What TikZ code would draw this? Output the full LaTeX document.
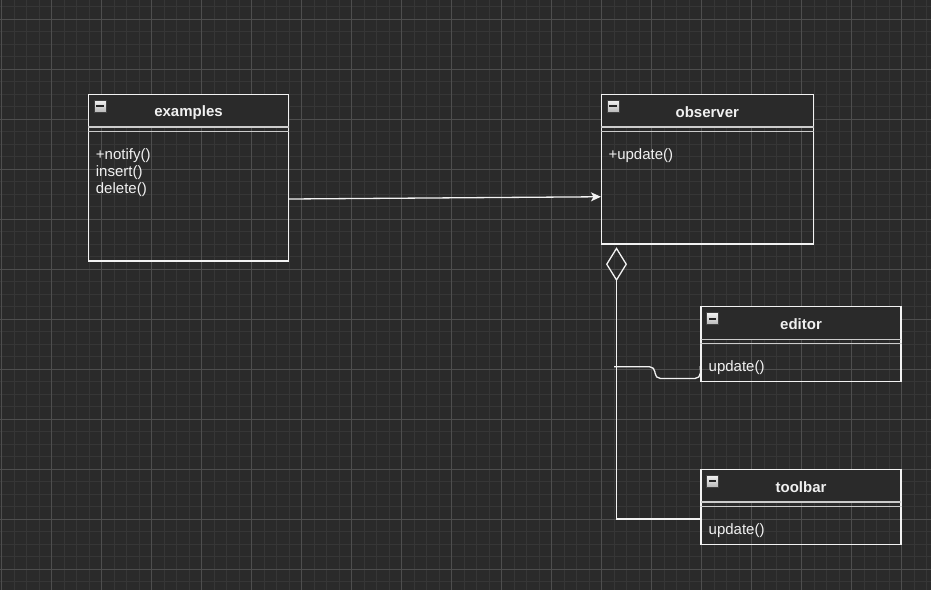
\documentclass[tikz,border=0pt]{standalone}
\usepackage{fontspec}
\setmainfont{Liberation Sans}
\usetikzlibrary{arrows.meta,shapes.geometric}
\definecolor{bgc}{HTML}{2A2A2A}
\definecolor{minorc}{HTML}{363636}
\definecolor{majorc}{HTML}{4E4E4E}
\definecolor{linec}{HTML}{F2F2F2}
\definecolor{sepc}{HTML}{CCCCCC}
\definecolor{txtc}{HTML}{F0F0F0}
\begin{document}
\begin{tikzpicture}[x=1pt,y=-1pt,
  minorgrid/.style={draw=minorc,line width=1pt},
  majorgrid/.style={draw=majorc,line width=1pt},
  hdr/.style={fill=bgc,draw=none,inner sep=0pt},
  hdrtext/.style={inner sep=0pt,text=txtc,font=\fontsize{15}{17}\selectfont\bfseries},
  classbox/.style={draw=linec,line width=1.3pt,fill=none,inner sep=0pt},
  sepline/.style={draw=sepc,line width=1.3pt},
  member/.style={text=txtc,font=\fontsize{15}{17}\selectfont,anchor=base west,inner sep=0pt},
  minusicon/.style={draw=gray!50!black,line width=0.6pt,top color=gray!10,bottom color=gray!55,
    minimum size=12pt,inner sep=0pt,
    path picture={\fill[black!85] ([xshift=2.3pt,yshift=-1pt]path picture bounding box.west)
      rectangle ([xshift=-2.3pt,yshift=1pt]path picture bounding box.east);}},
  conn/.style={draw=linec,line width=1.3pt},
  aggdiamond/.style={diamond,draw=linec,line width=1.3pt,fill=none,minimum width=20pt,minimum height=32pt,inner sep=0pt}
]
% background and grid
\fill[bgc] (0,0) rectangle (931,590);
\useasboundingbox (0,0) rectangle (931,590);
\foreach \i in {0,...,74} \draw[minorgrid] ({1.5+12.5*\i},0) -- ({1.5+12.5*\i},590);
\foreach \i in {0,...,47} \draw[minorgrid] (0,{6.8+12.5*\i}) -- (931,{6.8+12.5*\i});
\foreach \i in {0,...,18} \draw[majorgrid] ({1.5+50*\i},0) -- ({1.5+50*\i},590);
\foreach \i in {0,...,11} \draw[majorgrid] (0,{19.3+50*\i}) -- (931,{19.3+50*\i});

% examples
\node[hdr,minimum width=200pt,minimum height=32.4pt] (exh) at (188.5,110.7) {};
\node[hdrtext] (ext) at (188.5,112.2) {examples};
\node[classbox,minimum width=200pt,minimum height=166.5pt] (ex) at (188.5,177.75) {};
\draw[sepline] (exh.south west) -- (exh.south east);
\draw[sepline] ([yshift=-37.5pt]ex.north west) -- ([yshift=-37.5pt]ex.north east);
\node[minusicon] (exi) at (100,106) {};
\node[member] (exm1) at (95.7,159) {+notify()};
\node[member] (exm2) at (95.7,176) {insert()};
\node[member] (exm3) at (95.7,193) {delete()};

% observer
\node[hdr,minimum width=212pt,minimum height=32.4pt] (obh) at (707.6,110.7) {};
\node[hdrtext] (obt) at (707.3,112.2) {observer};
\node[classbox,minimum width=212pt,minimum height=149.5pt] (ob) at (707.6,169.25) {};
\draw[sepline] (obh.south west) -- (obh.south east);
\draw[sepline] ([yshift=-37.5pt]ob.north west) -- ([yshift=-37.5pt]ob.north east);
\node[minusicon] (obi) at (613,106) {};
\node[member] (obm1) at (608.3,159) {+update()};

% editor
\node[hdr,minimum width=200pt,minimum height=32.4pt] (edh) at (801,322.9) {};
\node[hdrtext] (edt) at (801,324.4) {editor};
\node[classbox,minimum width=200pt,minimum height=75pt] (ed) at (801,344.2) {};
\draw[sepline] (edh.south west) -- (edh.south east);
\draw[sepline] ([yshift=-37.5pt]ed.north west) -- ([yshift=-37.5pt]ed.north east);
\node[minusicon] (edi) at (712.5,318.6) {};
\node[member] (edm1) at (708.5,371.5) {update()};

% toolbar
\node[hdr,minimum width=200pt,minimum height=32.4pt] (tbh) at (801,485.5) {};
\node[hdrtext] (tbt) at (801,487) {toolbar};
\node[classbox,minimum width=200pt,minimum height=75pt] (tb) at (801,506.8) {};
\draw[sepline] (tbh.south west) -- (tbh.south east);
\draw[sepline] ([yshift=-37.5pt]tb.north west) -- ([yshift=-37.5pt]tb.north east);
\node[minusicon] (tbi) at (712.5,481.2) {};
\node[member] (tbm1) at (708.5,534) {update()};

% association examples -> observer
\draw[conn,-{Stealth[length=10pt,width=9pt,inset=2.5pt,fill=linec]}]
  ([yshift=-21.25pt]ex.east) -- ([yshift=-27.5pt]ob.west);

% aggregation
\node[aggdiamond] (dia) at (616.5,264.2) {};
\draw[conn] (dia.south) |- ([yshift=-12.2pt]tb.west);

% editor connector
\coordinate (edfree) at (614,366.7);
\draw[conn,rounded corners=5.5pt] (edfree) -- (655,366.7) -- (655,378.5) -- (700.5,378.5) -- ([yshift=-22pt]ed.west);
\end{tikzpicture}
\end{document}
